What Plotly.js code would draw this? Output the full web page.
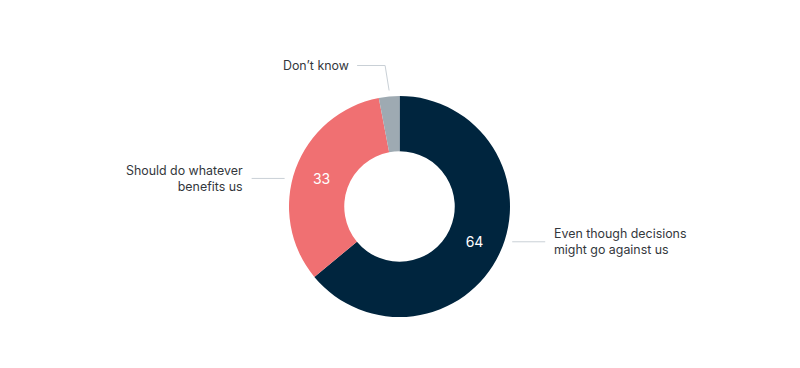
<!DOCTYPE html>
<html><head><meta charset="utf-8">
<script src="https://cdn.plot.ly/plotly-3.0.1.min.js"></script>
<style>html,body{margin:0;padding:0;background:#fff}#chart{width:800px;height:368px}</style>
</head><body><div id="chart"></div>
<script>
const categories = ["Even though decisions<br>might go against us", "Should do whatever<br>benefits us", "Don\u2019t know"];
const values = [64, 33, 3];
const colors = ["#00253e", "#f07072", "#9eaab2"];
const showValue = [true, true, false];

const W = 800, H = 368;
const cx = 399.5, cy = 206.5, R = 110.5;
const domX = [(cx - R) / W, (cx + R) / W];
const domY = [1 - (cy + R) / H, 1 - (cy - R) / H];

const total = values.reduce((a, b) => a + b, 0);
let cum = 0;
const mids = values.map(v => { const m = (cum + v / 2) / total * 2 * Math.PI; cum += v; return m; });

const px = x => x / W, py = y => 1 - y / H;
const lineColor = "#c9d0d6";
const shapes = [], annotations = [];
const font = {family: "Inter, 'Noto Sans', sans-serif", size: 12.4, color: "#33373c"};

mids.forEach((a, i) => {
  const rm = R * 0.75;
  const lx = cx + rm * Math.sin(a), ly = cy - rm * Math.cos(a);
  if (i === 2) {
    const ex = cx + R * Math.sin(a), ey = cy - R * Math.cos(a) - 6;
    const topY = ey - 25;
    shapes.push({type: "path", xref: "paper", yref: "paper",
      path: `M ${px(ex - 32)} ${py(topY)} L ${px(ex - 4)} ${py(topY)} L ${px(ex)} ${py(ey)}`,
      line: {color: lineColor, width: 1}});
    annotations.push({xref: "paper", yref: "paper", x: px(ex - 38), y: py(topY), xanchor: "right", yanchor: "middle",
      text: categories[i], showarrow: false, align: "right", font: font});
  } else {
    const side = Math.sin(a) >= 0 ? 1 : -1;
    const dy = ly - cy;
    const edge = Math.sqrt(R * R - dy * dy);
    const x0 = cx + side * (edge + 8), x1 = cx + side * (edge + 41);
    shapes.push({type: "line", xref: "paper", yref: "paper", x0: px(x0), x1: px(x1), y0: py(ly), y1: py(ly),
      line: {color: lineColor, width: 1}});
    annotations.push({xref: "paper", yref: "paper", x: px(x1 + side * 7), y: py(ly),
      xanchor: side > 0 ? "left" : "right", yanchor: "middle",
      text: categories[i], showarrow: false, align: side > 0 ? "left" : "right", font: font});
  }
});

const trace = {
  type: "pie",
  labels: categories,
  values: values,
  hole: 0.5,
  sort: false,
  direction: "clockwise",
  rotation: 0,
  marker: {colors: colors, line: {width: 0}},
  texttemplate: values.map((v, i) => showValue[i] ? "%{value}" : ""),
  textposition: "inside",
  insidetextorientation: "horizontal",
  insidetextfont: {family: "Inter, 'Noto Sans', sans-serif", size: 14, color: "#ffffff"},
  domain: {x: domX, y: domY},
  showlegend: false,
  hoverinfo: "label+value"
};

Plotly.newPlot("chart", [trace], {
  width: W, height: H,
  margin: {l: 0, r: 0, t: 0, b: 0},
  paper_bgcolor: "#ffffff",
  showlegend: false,
  shapes: shapes,
  annotations: annotations
}, {displayModeBar: false, staticPlot: true});
</script></body></html>
